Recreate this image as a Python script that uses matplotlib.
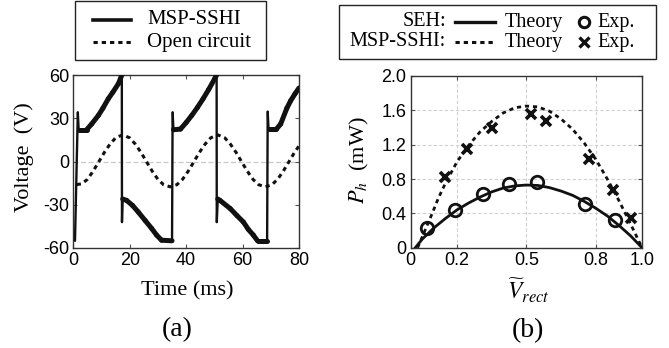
import numpy as np
import matplotlib
matplotlib.use('Agg')
import matplotlib.pyplot as plt
from matplotlib.collections import LineCollection
from matplotlib.lines import Line2D
from matplotlib.patches import Rectangle

plt.rcParams['mathtext.fontset'] = 'stix'

# ---------------- (a) data ----------------
t_sshi = [0.6, 1.6, 1.9, 4.7, 6.5, 8.9, 10.5, 12.4, 14.0, 16.0, 17.2,
          17.25, 17.5, 18.9, 21.0, 23.0, 25.5, 27.8, 29.5, 31.3, 35.0,
          35.2, 35.5, 38.0, 40.0, 42.0, 44.0, 46.0, 48.0, 50.0, 50.8,
          50.85, 51.2, 52.0, 55.6, 58.0, 60.3, 62.0, 63.8, 65.3, 68.7,
          68.9, 69.2, 72.0, 73.5, 75.7, 77.0, 78.6, 80.0]
v_sshi = [-55, 34, 22, 22, 26, 32, 37, 43.5, 48, 54, 60,
          -42, -26, -27, -30.5, -35, -41, -46.5, -51, -54.6, -55,
          34, 22, 22.5, 27, 32, 37.5, 43.5, 50, 57, 60,
          -42, -26, -27, -32.6, -37.5, -42, -47, -51, -55, -55,
          34.5, 22.5, 22.5, 26, 37, 42, 47, 51]

t_oc = [1.2, 3, 5, 7, 9, 11, 13, 15, 17.5, 20, 22, 24, 26, 28, 30, 32, 34.4,
        36.7, 38.7, 40.7, 42.7, 44.7, 46.7, 48.7, 51.2, 53.7, 55.7, 57.7,
        59.7, 61.7, 63.7, 65.7, 68.1, 70.4, 72.4, 74.4, 76.4, 78.4, 80]
v_oc = [-16.0, -15.5, -12.4, -6.8, -0.3, 6.3, 12.0, 16.4, 18.5, 16.4, 12.0,
        6.3, -0.3, -6.8, -12.4, -16.1, -17.6, -16.1, -12.4, -6.8, -0.3, 6.3,
        12.0, 16.4, 18.5, 16.4, 12.0, 6.3, -0.3, -6.8, -12.4, -16.1, -17.6,
        -16.1, -12.4, -6.8, -0.3, 6.3, 10.8]

a_xticks = [0, 20, 40, 60, 80]
a_yticks = [-60, -30, 0, 30, 60]

# ---------------- (b) data ----------------
v_seh_th = [0.02, 0.05, 0.1, 0.15, 0.2, 0.25, 0.3, 0.35, 0.4, 0.45, 0.5,
            0.55, 0.6, 0.65, 0.7, 0.75, 0.8, 0.85, 0.9, 0.95, 1.0]
p_seh_th = [0.0, 0.10, 0.23, 0.34, 0.44, 0.52, 0.59, 0.65, 0.695, 0.72, 0.73,
            0.725, 0.70, 0.66, 0.61, 0.54, 0.46, 0.37, 0.26, 0.14, 0.0]

v_sshi_th = [0.03, 0.06, 0.09, 0.12, 0.15, 0.2, 0.25, 0.3, 0.35, 0.4, 0.45,
             0.5, 0.55, 0.6, 0.65, 0.7, 0.75, 0.8, 0.85, 0.9, 0.95, 1.0]
p_sshi_th = [0.0, 0.19, 0.38, 0.58, 0.75, 1.00, 1.19, 1.35, 1.47, 1.57, 1.63,
             1.65, 1.64, 1.59, 1.50, 1.38, 1.22, 1.03, 0.80, 0.55, 0.28, 0.0]

v_seh_exp = [0.07, 0.19, 0.313, 0.427, 0.548, 0.753, 0.884]
p_seh_exp = [0.23, 0.44, 0.62, 0.745, 0.763, 0.505, 0.32]

v_sshi_exp = [0.149, 0.243, 0.352, 0.519, 0.584, 0.77, 0.874, 0.953]
p_sshi_exp = [0.82, 1.15, 1.39, 1.56, 1.48, 1.03, 0.675, 0.35]

b_xticks = [0, 0.2, 0.5, 0.8, 1.0]
b_xticklabels = ['0', '0.2', '0.5', '0.8', '1.0']
b_yticks = [0, 0.4, 0.8, 1.2, 1.6, 2.0]
b_yticklabels = ['0', '0.4', '0.8', '1.2', '1.6', '2.0']

# ---------------- figure ----------------
W, H = 669, 348
fig = plt.figure(figsize=(W / 100, H / 100), dpi=100)


def fx(x):
    return x / W


def fy(y):
    return 1 - y / H


SANS = 'Liberation Sans'
SERIF = 'Liberation Serif'
SPINE = '#333333'

axa = fig.add_axes([fx(73.3), fy(248), fx(299) - fx(73.3), fy(75) - fy(248)])
axb = fig.add_axes([fx(410.7), fy(247.7), fx(642) - fx(410.7), fy(76) - fy(247.7)])

for ax in (axa, axb):
    for s in ax.spines.values():
        s.set_color(SPINE)
        s.set_linewidth(1.0)
    ax.tick_params(direction='in', top=True, right=True, length=3, width=0.8,
                   color='#555555', labelsize=13, pad=3)

# ---- (a) ----
axa.axhline(0, color='#c8c8c8', lw=0.9, ls=(0, (4, 2)), zorder=0)
t = np.array(t_sshi)
v = np.array(v_sshi)
segs = [[(t[i], v[i]), (t[i + 1], v[i + 1])] for i in range(len(t) - 1)]
slope = np.abs(np.diff(v) / np.diff(t))
lws = np.where(slope > 15, 1.7, 3.6)
lc = LineCollection(segs, linewidths=lws, colors='#111111', capstyle='round',
                    joinstyle='round', zorder=3)
axa.add_collection(lc)
axa.plot(t_oc, v_oc, color='#111111', lw=2.2, ls=(0, (1.4, 1.3)), zorder=2)
axa.set_xlim(0, 80)
axa.set_ylim(-60, 60)
axa.set_xticks(a_xticks)
axa.set_yticks(a_yticks)
axa.set_xticklabels([str(x) for x in a_xticks], fontfamily=SANS, fontsize=13)
axa.set_yticklabels([str(y) for y in a_yticks], fontfamily=SANS, fontsize=13)

# ---- (b) ----
for xv in [0.2, 0.5, 0.8]:
    axb.axvline(xv, color='#d0d0d0', lw=0.8, ls=(0, (3, 2)), zorder=0)
for yv in [0.4, 0.8, 1.2, 1.6]:
    axb.axhline(yv, color='#d0d0d0', lw=0.8, ls=(0, (3, 2)), zorder=0)
axb.plot(v_seh_th, p_seh_th, color='#111111', lw=2.0, zorder=3)
axb.plot(v_sshi_th, p_sshi_th, color='#111111', lw=2.0, ls=(0, (1.5, 1.4)), zorder=3)
axb.plot(v_seh_exp, p_seh_exp, ls='none', marker='o', ms=9, mfc='none',
         mec='#111111', mew=2.0, zorder=4)
axb.plot(v_sshi_exp, p_sshi_exp, ls='none', marker='x', ms=7.5,
         mec='#111111', mew=2.6, zorder=4)
axb.set_xlim(0, 1.0)
axb.set_ylim(0, 2.0)
axb.set_xticks(b_xticks)
axb.set_yticks(b_yticks)
axb.set_xticklabels(b_xticklabels, fontfamily=SANS, fontsize=13)
axb.set_yticklabels(b_yticklabels, fontfamily=SANS, fontsize=13)

# ---- axis labels ----
fig.text(fx(24), fy(157), 'Voltage  (V)', rotation=90, ha='center', va='center',
         fontfamily=SERIF, fontsize=16)
fig.text(fx(187), fy(291), 'Time (ms)', ha='center', va='center',
         fontfamily=SERIF, fontsize=16)
fig.text(fx(177), fy(330), '(a)', ha='center', va='center',
         fontfamily=SERIF, fontsize=20)
fig.text(fx(359), fy(160), r'$P_h$  (mW)', rotation=90, ha='center', va='center',
         fontfamily=SERIF, fontsize=16)
fig.text(fx(528), fy(291), r'$\widetilde{V}_{rect}$', ha='center', va='center',
         fontsize=17)
fig.text(fx(528), fy(331), '(b)', ha='center', va='center',
         fontfamily=SERIF, fontsize=20)

# ---- legend (a) ----
fig.add_artist(Rectangle((fx(75), fy(60)), fx(266) - fx(75), fy(1.5) - fy(60),
                         transform=fig.transFigure, fill=False, ec='#222222', lw=1.0))
fig.add_artist(Line2D([fx(93), fx(131)], [fy(20), fy(20)], transform=fig.transFigure,
                      color='#111111', lw=2.6))
fig.add_artist(Line2D([fx(93), fx(131)], [fy(42), fy(42)], transform=fig.transFigure,
                      color='#111111', lw=2.2, ls=(0, (1.4, 1.3))))
fig.text(fx(147), fy(20), 'MSP-SSHI', ha='left', va='center', fontfamily=SERIF, fontsize=15)
fig.text(fx(147), fy(42), 'Open circuit', ha='left', va='center', fontfamily=SERIF, fontsize=15)

# ---- legend (b) ----
fig.add_artist(Rectangle((fx(339), fy(59)), fx(656) - fx(339), fy(5) - fy(59),
                         transform=fig.transFigure, fill=False, ec='#222222', lw=1.0))
r1, r2 = 22, 42
LFS = 14.5
fig.text(fx(446), fy(r1), 'SEH:', ha='right', va='center', fontfamily=SERIF, fontsize=LFS)
fig.text(fx(446), fy(r2), 'MSP-SSHI:', ha='right', va='center', fontfamily=SERIF, fontsize=LFS)
fig.add_artist(Line2D([fx(455), fx(495)], [fy(r1), fy(r1)], transform=fig.transFigure,
                      color='#111111', lw=2.4))
fig.add_artist(Line2D([fx(455), fx(495)], [fy(r2), fy(r2)], transform=fig.transFigure,
                      color='#111111', lw=2.2, ls=(0, (1.4, 1.3))))
fig.text(fx(505), fy(r1), 'Theory', ha='left', va='center', fontfamily=SERIF, fontsize=LFS)
fig.text(fx(505), fy(r2), 'Theory', ha='left', va='center', fontfamily=SERIF, fontsize=LFS)
fig.add_artist(Line2D([fx(584)], [fy(r1)], transform=fig.transFigure, ls='none',
                      marker='o', ms=7.5, mfc='none', mec='#111111', mew=2.2))
fig.add_artist(Line2D([fx(584)], [fy(r2)], transform=fig.transFigure, ls='none',
                      marker='x', ms=6.5, mec='#111111', mew=2.4))
fig.text(fx(597), fy(r1), 'Exp.', ha='left', va='center', fontfamily=SERIF, fontsize=LFS)
fig.text(fx(597), fy(r2), 'Exp.', ha='left', va='center', fontfamily=SERIF, fontsize=LFS)

fig.savefig('out.png', dpi=100)
